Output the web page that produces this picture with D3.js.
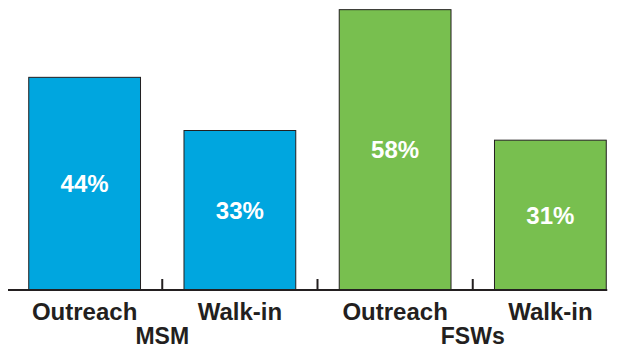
<!DOCTYPE html>
<html>
<head>
<meta charset="utf-8">
<script src="https://cdn.jsdelivr.net/npm/d3@7"></script>
<style>
  body { margin: 0; background: #fff; }
  svg { display: block; }
  text { font-family: "Liberation Sans", Arial, sans-serif; }
</style>
</head>
<body>
<svg id="chart" width="624" height="349"></svg>
<script>
// Data
const categories = ['Outreach', 'Walk-in', 'Outreach', 'Walk-in'];
const groups = ['MSM', 'MSM', 'FSWs', 'FSWs'];
const values = [44, 33, 58, 31];
const groupNames = ['MSM', 'FSWs'];
const groupColors = { MSM: '#00a6df', FSWs: '#78bf4f' };

const width = 624, height = 349;
const baseY = 290;
const ink = '#231f20';

const svg = d3.select('#chart');

const x = d3.scaleBand()
    .domain(d3.range(values.length))
    .range([7, 628])
    .paddingInner(0.28)
    .paddingOuter(0.14);

const y = d3.scaleLinear()
    .domain([0, 60])
    .range([baseY, 0]);

// Bars
svg.append('g')
    .selectAll('rect')
    .data(values)
    .join('rect')
    .attr('x', (d, i) => x(i))
    .attr('y', d => y(d))
    .attr('width', x.bandwidth())
    .attr('height', d => y(0) - y(d))
    .attr('fill', (d, i) => groupColors[groups[i]])
    .attr('stroke', ink)
    .attr('stroke-width', 1);

// Value labels
svg.append('g')
    .selectAll('text')
    .data(values)
    .join('text')
    .attr('x', (d, i) => x(i) + x.bandwidth() / 2)
    .attr('y', d => (y(d) + y(0)) / 2)
    .attr('dy', '0.36em')
    .attr('text-anchor', 'middle')
    .attr('fill', '#fff')
    .attr('font-size', 24)
    .attr('font-weight', 'bold')
    .text(d => d + '%');

// Axis line and boundary ticks
const lastRight = x(values.length - 1) + x.bandwidth();
svg.append('line')
    .attr('x1', x.range()[0] + 1)
    .attr('x2', lastRight + 1)
    .attr('y1', baseY)
    .attr('y2', baseY)
    .attr('stroke', ink)
    .attr('stroke-width', 2);

const halfGap = x.step() * x.paddingInner() / 2;
svg.append('g')
    .selectAll('line')
    .data(d3.range(1, values.length))
    .join('line')
    .attr('x1', i => x(i) - halfGap)
    .attr('x2', i => x(i) - halfGap)
    .attr('y1', baseY)
    .attr('y2', baseY - 11)
    .attr('stroke', ink)
    .attr('stroke-width', 2);

// Category labels
svg.append('g')
    .selectAll('text')
    .data(categories)
    .join('text')
    .attr('x', (d, i) => x(i) + x.bandwidth() / 2)
    .attr('y', 320)
    .attr('text-anchor', 'middle')
    .attr('fill', ink)
    .attr('font-size', 24)
    .attr('font-weight', 'bold')
    .text(d => d);

// Group labels
svg.append('g')
    .selectAll('text')
    .data(groupNames)
    .join('text')
    .attr('x', g => {
        const idx = d3.range(groups.length).filter(i => groups[i] === g);
        const first = x(idx[0]);
        const last = x(idx[idx.length - 1]) + x.bandwidth();
        return (first + last) / 2;
    })
    .attr('y', 344)
    .attr('text-anchor', 'middle')
    .attr('fill', ink)
    .attr('font-size', 23)
    .attr('font-weight', 'bold')
    .text(d => d);
</script>
</body>
</html>
